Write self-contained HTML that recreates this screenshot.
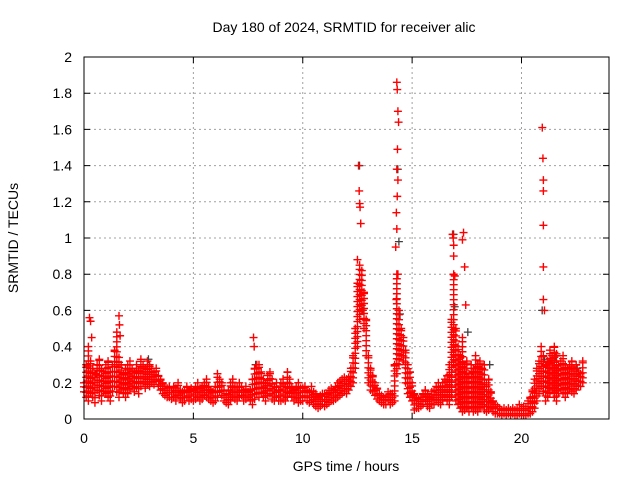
<!DOCTYPE html>
<html><head><meta charset="utf-8"><style>
body{margin:0;background:#fff;}
svg{display:block;font-family:"Liberation Sans",sans-serif;}
</style></head><body>
<svg id="chart" width="640" height="480">
<text x="344" y="32" text-anchor="middle" font-size="14">Day 180 of 2024, SRMTID for receiver alic</text>
<text x="346" y="471" text-anchor="middle" font-size="14">GPS time / hours</text>
<text transform="translate(18,238) rotate(-90)" text-anchor="middle" font-size="14">SRMTID / TECUs</text>
<g id="grid"></g><g id="ticks"></g><g id="dark"></g><g id="marks"></g>
<rect x="84" y="57" width="525" height="362" fill="none" stroke="#000" stroke-width="1"/>
</svg>
<script>
const xTicks=[0,5,10,15,20];
const yTicks=[0,0.2,0.4,0.6,0.8,1,1.2,1.4,1.6,1.8,2];
const yTickLabels=["0","0.2","0.4","0.6","0.8","1","1.2","1.4","1.6","1.8","2"];
const t0=0, tStep=0.1;
const lowVals=[
.15,.12,.10,.14,.12,.09,.16,.13,.10,.15,
.14,.12,.10,.15,.18,.15,.12,.16,.14,.12,
.14,.16,.18,.15,.17,.14,.18,.20,.17,.19,
.18,.20,.19,.21,.18,.16,.14,.13,.12,.12,
.11,.12,.10,.13,.11,.09,.10,.12,.10,.11,
.10,.11,.12,.10,.11,.13,.12,.11,.10,.09,
.10,.12,.15,.13,.10,.09,.08,.10,.12,.11,
.10,.12,.13,.10,.11,.12,.10,.08,.11,.14,
.12,.14,.12,.10,.13,.14,.11,.10,.12,.10,
.10,.11,.10,.12,.14,.12,.10,.11,.09,.10,
.10,.12,.10,.09,.10,.08,.07,.06,.07,.08,
.07,.08,.09,.10,.10,.11,.12,.13,.14,.15,
.14,.16,.18,.20,.28,.40,.55,.60,.50,.35,
.20,.16,.15,.13,.11,.10,.09,.08,.08,.10,
.08,.09,.10,.25,.30,.35,.32,.20,.14,.12,
.10,.05,.06,.06,.07,.08,.10,.07,.06,.08,
.08,.10,.09,.08,.10,.12,.10,.08,.12,.30,
.10,.08,.06,.04,.05,.06,.04,.06,.04,.05,
.04,.06,.08,.05,.04,.05,.06,.04,.03,.03,
.03,.02,.03,.02,.03,.02,.03,.02,.02,.03,
.02,.02,.02,.03,.03,.04,.06,.10,.14,.18,
.15,.10,.12,.14,.16,.12,.10,.14,.16,.14,
.12,.14,.16,.15,.14,.16,.18,.18,.20];
const highVals=[
.20,.30,.40,.32,.28,.25,.30,.33,.28,.26,
.30,.32,.26,.30,.38,.48,.34,.30,.25,.28,
.30,.32,.28,.26,.30,.27,.33,.30,.28,.32,
.30,.28,.26,.28,.24,.22,.20,.18,.17,.18,
.16,.18,.17,.20,.16,.15,.16,.18,.15,.17,
.16,.18,.20,.17,.18,.20,.22,.18,.16,.15,
.18,.25,.22,.20,.16,.14,.16,.20,.22,.18,
.18,.20,.18,.16,.18,.15,.16,.22,.28,.30,
.30,.26,.22,.20,.24,.26,.22,.18,.20,.16,
.20,.22,.18,.26,.22,.18,.16,.18,.20,.17,
.17,.18,.16,.15,.18,.15,.14,.12,.13,.14,
.14,.14,.16,.17,.16,.18,.20,.21,.22,.23,
.22,.23,.28,.35,.50,.75,.85,.82,.70,.55,
.35,.28,.24,.20,.17,.14,.13,.12,.12,.15,
.14,.14,.30,.80,.60,.50,.45,.38,.30,.26,
.20,.14,.12,.11,.12,.14,.16,.14,.12,.15,
.16,.18,.20,.18,.20,.22,.24,.30,.55,.80,
.50,.40,.35,.45,.30,.32,.25,.30,.28,.35,
.30,.32,.28,.30,.20,.22,.15,.10,.08,.07,
.06,.05,.06,.05,.06,.05,.06,.05,.06,.08,
.06,.07,.06,.10,.12,.16,.22,.28,.32,.40,
.35,.30,.32,.38,.35,.40,.36,.30,.32,.35,
.30,.28,.30,.32,.28,.30,.26,.25,.32];
const spikeTimes=[0.25,0.3,0.35,1.6,1.62,1.65,7.75,7.78,12.55,12.58,12.6,12.62,12.65,12.5,14.3,14.32,14.35,14.38,14.33,14.3,14.35,14.32,14.28,14.3,14.25,14.35,14.28,16.85,16.88,16.9,16.9,16.95,17.35,17.3,17.4,17.45,20.95,20.98,21.0,21.0,21.0,21.0,21.0,21.05];
const spikeVals=[0.56,0.54,0.45,0.57,0.52,0.46,0.45,0.40,1.40,1.26,1.19,1.17,1.08,0.88,1.86,1.82,1.70,1.64,1.49,1.38,1.32,1.23,1.14,1.05,0.95,0.80,0.66,1.02,1.00,0.96,0.90,0.79,1.03,0.99,0.84,0.63,1.61,1.44,1.32,1.26,1.07,0.84,0.66,0.60];
const darkTimes=[0.5,2.9,7.8,12.55,12.7,14.3,14.4,14.35,16.85,16.9,17.5,18.5,20.9,21.0,21.5,22.5];
const darkVals=[0.25,0.33,0.30,1.40,0.60,1.38,0.58,0.98,1.02,0.62,0.48,0.30,0.60,0.33,0.35,0.28];

const X0=84,X1=609,Y0=419,Y1=57;
const xs=t=>X0+(t/24)*(X1-X0);
const ys=v=>Y0-(v/2)*(Y0-Y1);
const NS="http://www.w3.org/2000/svg";
function mk(tag,parent){const e=document.createElementNS(NS,tag);parent.appendChild(e);return e;}
const grid=document.getElementById('grid'),ticks=document.getElementById('ticks');
xTicks.forEach(t=>{
 const x=xs(t);
 if(t>0){const l=mk('line',grid);
 
 
 l.setAttribute('x1',x);l.setAttribute('x2',x);l.setAttribute('y1',Y1);l.setAttribute('y2',Y0);
 l.setAttribute('stroke','#a0a0a0');l.setAttribute('stroke-dasharray','2,3');}
 const tk=mk('path',ticks);
 
 
 tk.setAttribute('d',`M${x},${Y0}v-6M${x},${Y1}v6`);tk.setAttribute('stroke','#000');
 const tx=mk('text',ticks);
 
 
 tx.setAttribute('x',x);tx.setAttribute('y',Y0+24);tx.setAttribute('text-anchor','middle');tx.setAttribute('font-size','14');tx.textContent=t;
});
yTicks.forEach((v,i)=>{
 const y=ys(v);
 if(v>0&&v<2){const l=mk('line',grid);
 
 
 l.setAttribute('x1',X0);l.setAttribute('x2',X1);l.setAttribute('y1',y);l.setAttribute('y2',y);
 l.setAttribute('stroke','#a0a0a0');l.setAttribute('stroke-dasharray','2,3');}
 const tk=mk('path',ticks);
 
 
 tk.setAttribute('d',`M${X0},${y}h6M${X1},${y}h-6`);tk.setAttribute('stroke','#000');
 const tx=mk('text',ticks);
 
 
 tx.setAttribute('x',X0-12);tx.setAttribute('y',y+5);tx.setAttribute('text-anchor','end');tx.setAttribute('font-size','14');tx.textContent=yTickLabels[i];
});
const plus=(x,y)=>`M${x-4},${y}h8M${x},${y-4}v8`;
const marks=document.getElementById('marks'),dark=document.getElementById('dark');
darkTimes.forEach((t,i)=>{
 const p=mk('path',dark);
 
 
 p.setAttribute('d',plus(xs(t)+1,ys(darkVals[i])));p.setAttribute('stroke','#404040');p.setAttribute('stroke-width','1.3');
});
lowVals.forEach((lo,i)=>{
 const t=t0+i*tStep,x=xs(t),yl=ys(lo),yh=ys(highVals[i]);
 let d='';
 for(let y=yl;y>=yh-0.1;y-=5)d+=plus(x,y);
 d+=plus(x,yh);
 const p=mk('path',marks);
 
 
 p.setAttribute('d',d);p.setAttribute('stroke','#ff0000');p.setAttribute('stroke-width','1.4');p.setAttribute('fill','none');
});
spikeTimes.forEach((t,i)=>{
 const p=mk('path',marks);
 
 
 p.setAttribute('d',plus(xs(t),ys(spikeVals[i])));p.setAttribute('stroke','#ff0000');p.setAttribute('stroke-width','1.4');
});
</script>
</body></html>
